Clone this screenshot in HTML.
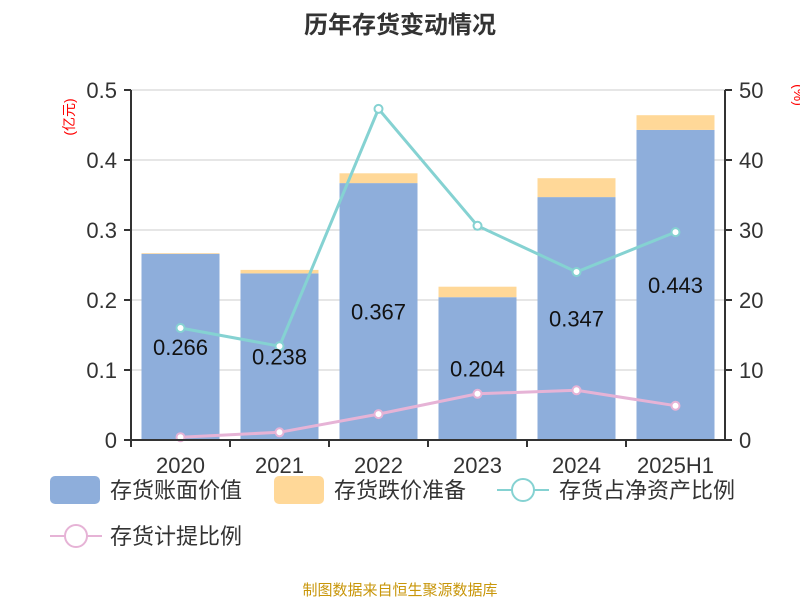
<!DOCTYPE html>
<html><head><meta charset="utf-8"><style>
body{margin:0;width:800px;height:600px;background:#fff;overflow:hidden}
svg text{font-family:"Liberation Sans","Noto Sans CJK SC",sans-serif}
</style></head><body>
<svg id="chart" width="800" height="600" xmlns="http://www.w3.org/2000/svg">
<text x="400" y="33" text-anchor="middle" font-size="24" font-weight="bold" fill="#333">历年存货变动情况</text>
<text transform="translate(74,117) rotate(-90)" text-anchor="middle" font-size="14" fill="#f00">(亿元)</text>
<text transform="translate(794,95) rotate(90)" text-anchor="middle" font-size="14" fill="#f00">(%)</text>
<g id="grid"></g><g id="bars"></g><g id="lines"></g><g id="axes"></g>
<g>
<rect x="50" y="476" width="50" height="28" rx="5" fill="#8eaedb"/>
<text x="110" y="498" font-size="22" fill="#333">存货账面价值</text>
<rect x="274" y="476" width="50" height="28" rx="5" fill="#ffd898"/>
<text x="334" y="498" font-size="22" fill="#333">存货跌价准备</text>
<g><line x1="497" y1="490" x2="549" y2="490" stroke="#85d2d2" stroke-width="2"/><circle cx="523" cy="490" r="11" fill="#fff" stroke="#85d2d2" stroke-width="2"/></g>
<text x="559" y="498" font-size="22" fill="#333">存货占净资产比例</text>
<g><line x1="50" y1="536" x2="102" y2="536" stroke="#e6b3d6" stroke-width="2"/><circle cx="76" cy="536" r="11" fill="#fff" stroke="#e6b3d6" stroke-width="2"/></g>
<text x="110" y="544" font-size="22" fill="#333">存货计提比例</text>
</g>
<text x="400" y="595" text-anchor="middle" font-size="15" fill="#c8960a">制图数据来自恒生聚源数据库</text>
</svg>
<script>
const categories=["2020","2021","2022","2023","2024","2025H1"];
const bookValue=[0.266,0.238,0.367,0.204,0.347,0.443];
const provision=[0.001,0.005,0.014,0.015,0.027,0.021];
const inventoryRatio=[16.0,13.4,47.3,30.6,24.0,29.7];
const provisionRatio=[0.4,1.1,3.7,6.6,7.1,4.9];
const leftTicks=["0","0.1","0.2","0.3","0.4","0.5"];
const rightTicks=["0","10","20","30","40","50"];
const NS="http://www.w3.org/2000/svg";
const X0=131,X1=725,Y0=440,Y1=90;
const bw=(X1-X0)/categories.length;
const xc=i=>X0+bw*(i+0.5);
const yl=v=>Y0-(v/0.5)*(Y0-Y1);
const yr=v=>Y0-(v/50)*(Y0-Y1);
function mk(tag,attrs,parent){const e=document.createElementNS(NS,tag);for(const k in attrs)e.setAttribute(k,attrs[k]);document.getElementById(parent).appendChild(e);return e;}
leftTicks.forEach((t,i)=>{const y=Y0-i*(Y0-Y1)/5;
 if(i>0){const g=mk('line',{x1:X0,x2:X1,y1:y,y2:y,stroke:'#ccc','stroke-width':1},'grid');}
 const a=mk('text',{x:X0-14,y:y+8,'text-anchor':'end','font-size':22,fill:'#333'},'axes');a.textContent=t;
 
 mk('line',{x1:X0-7,x2:X0,y1:y,y2:y,stroke:'#333','stroke-width':2},'axes');
 mk('line',{x1:X1,x2:X1+7,y1:y,y2:y,stroke:'#333','stroke-width':2},'axes');
 const b=mk('text',{x:X1+14,y:y+8,'font-size':22,fill:'#333'},'axes');b.textContent=rightTicks[i];
 
});
mk('line',{x1:X0,x2:X0,y1:Y1,y2:Y0,stroke:'#333','stroke-width':2},'axes');
mk('line',{x1:X1,x2:X1,y1:Y1,y2:Y0,stroke:'#333','stroke-width':2},'axes');
mk('line',{x1:X0,x2:X1,y1:Y0,y2:Y0,stroke:'#333','stroke-width':2},'axes');
categories.forEach((c,i)=>{
 const x=xc(i)-39;
 const r1=mk('rect',{x:x,y:yl(bookValue[i]),width:78,height:Y0-yl(bookValue[i]),fill:'#8eaedb'},'bars');
 
 const top=bookValue[i]+provision[i];
 const r2=mk('rect',{x:x,y:yl(top),width:78,height:yl(bookValue[i])-yl(top),fill:'#ffd898'},'bars');
 
 const t=mk('text',{x:xc(i),y:Y0+33,'text-anchor':'middle','font-size':22,fill:'#333'},'axes');t.textContent=c;
 
 mk('line',{x1:X0+bw*i,x2:X0+bw*i,y1:Y0,y2:Y0+7,stroke:'#333','stroke-width':2},'axes');
});
function line(data,color,name){
 const p=mk('polyline',{points:data.map((v,i)=>xc(i)+','+yr(v)).join(' '),fill:'none',stroke:color,'stroke-width':3},'lines');
 
 data.forEach((v,i)=>{const c=mk('circle',{cx:xc(i),cy:yr(v),r:4,fill:'#fff',stroke:color,'stroke-width':2},'lines');
 });
}
line(inventoryRatio,'#85d2d2','inventory-ratio');
line(provisionRatio,'#e6b3d6','provision-ratio');
categories.forEach((c,i)=>{
 const t=mk('text',{x:xc(i),y:yl(bookValue[i]/2)+8,'text-anchor':'middle','font-size':22,fill:'#111'},'lines');
 t.textContent=bookValue[i].toFixed(3);
 
});
</script>
</body></html>
